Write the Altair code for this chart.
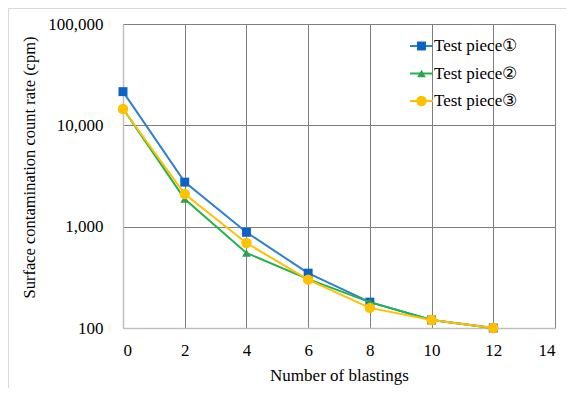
import altair as alt
import pandas as pd

blastings = [0, 2, 4, 6, 8, 10, 12]
series_names = ["Test piece①", "Test piece②", "Test piece③"]
piece1 = [21500, 2750, 880, 348, 180, 120, 100]
piece2 = [14600, 1870, 550, 304, 180, 120, 100]
piece3 = [14500, 2100, 690, 300, 158, 120, 100]

x_ticks = [0, 2, 4, 6, 8, 10, 12, 14]
y_ticks = [100, 1000, 10000, 100000]

line_colors = ["#2F80D0", "#22B250", "#FFC000"]
marker_colors = ["#0B63C4", "#2EA050", "#FFC000"]
shapes = ["square", "triangle-up", "circle"]
sizes = [80, 75, 110]

FONT = "Liberation Serif"

rows = []
for name, vals in zip(series_names, [piece1, piece2, piece3]):
    for b, v in zip(blastings, vals):
        rows.append({"series": name, "blastings": b, "rate": v})
df = pd.DataFrame(rows)

xs = alt.Scale(domain=[0, 14], nice=False)
ys = alt.Scale(type="log", domain=[100, 100000], nice=False)

layers = []
frame = alt.Chart(pd.DataFrame({"a": [0]})).mark_rect(
    filled=False, stroke="#D9D9D9", strokeWidth=1
).encode(
    x=alt.value(-114.5), x2=alt.value(470), y=alt.value(-15.5), y2=alt.value(420)
)

base_axes = alt.Chart(df).mark_line(opacity=0).encode(
    x=alt.X("blastings:Q", scale=xs, title="Number of blastings",
            axis=alt.Axis(values=x_ticks, grid=True, tickCount=8)),
    y=alt.Y("rate:Q", scale=ys, title="Surface contamination count rate (cpm)",
            axis=alt.Axis(values=y_ticks, format=",", grid=True, titleY=143,
                          titleFontSize=16.5)),
)
layers.append(base_axes)

for i, name in enumerate(series_names):
    sub = df[df["series"] == name]
    ln = alt.Chart(sub).mark_line(color=line_colors[i], strokeWidth=2).encode(
        x=alt.X("blastings:Q", scale=xs),
        y=alt.Y("rate:Q", scale=ys),
    )
    pt = alt.Chart(sub).mark_point(
        shape=shapes[i], filled=True, color=marker_colors[i], size=sizes[i], opacity=1
    ).encode(
        x=alt.X("blastings:Q", scale=xs),
        y=alt.Y("rate:Q", scale=ys),
    )
    layers += [ln, pt]

main = alt.layer(*layers)

leg_df = pd.DataFrame({"series": series_names, "row": [0, 1, 2]})
leg_y = alt.Y("row:O", axis=None, scale=alt.Scale(type="point", range=[22, 77], padding=0))
leg_layers = []
for i, name in enumerate(series_names):
    sub = leg_df[leg_df["series"] == name]
    leg_layers.append(alt.Chart(sub).mark_rule(color=line_colors[i], strokeWidth=2).encode(
        x=alt.value(287), x2=alt.value(310), y=leg_y))
    leg_layers.append(alt.Chart(sub).mark_point(
        shape=shapes[i], filled=True, color=marker_colors[i], size=sizes[i], opacity=1
    ).encode(x=alt.value(298.5), y=leg_y))
    leg_layers.append(alt.Chart(sub).mark_text(
        align="left", baseline="middle", font=FONT, fontSize=17, color="#000000", dx=0
    ).encode(x=alt.value(311), y=leg_y, text="series:N"))
legend = alt.layer(*leg_layers)

chart = alt.layer(frame, main, legend).resolve_scale(y="independent").properties(
    width=432, height=304,
    autosize=alt.AutoSizeParams(type="none"),
    padding={"left": 115, "top": 16, "right": 11, "bottom": 60},
).configure_view(stroke=None).configure_axis(
    labelFont=FONT, titleFont=FONT, labelFontSize=17, titleFontSize=17,
    labelColor="#000000", titleColor="#000000", titleFontWeight="normal",
    gridColor="#7F7F7F", gridWidth=1, domainColor="#BFBFBF", domainWidth=1.5,
    ticks=False,
).configure_axisX(
    labelPadding=14, titlePadding=9,
).configure_axisY(
    labelPadding=20, titlePadding=10,
)

chart.save("out.html", embed_options={"renderer": "svg", "actions": False})
